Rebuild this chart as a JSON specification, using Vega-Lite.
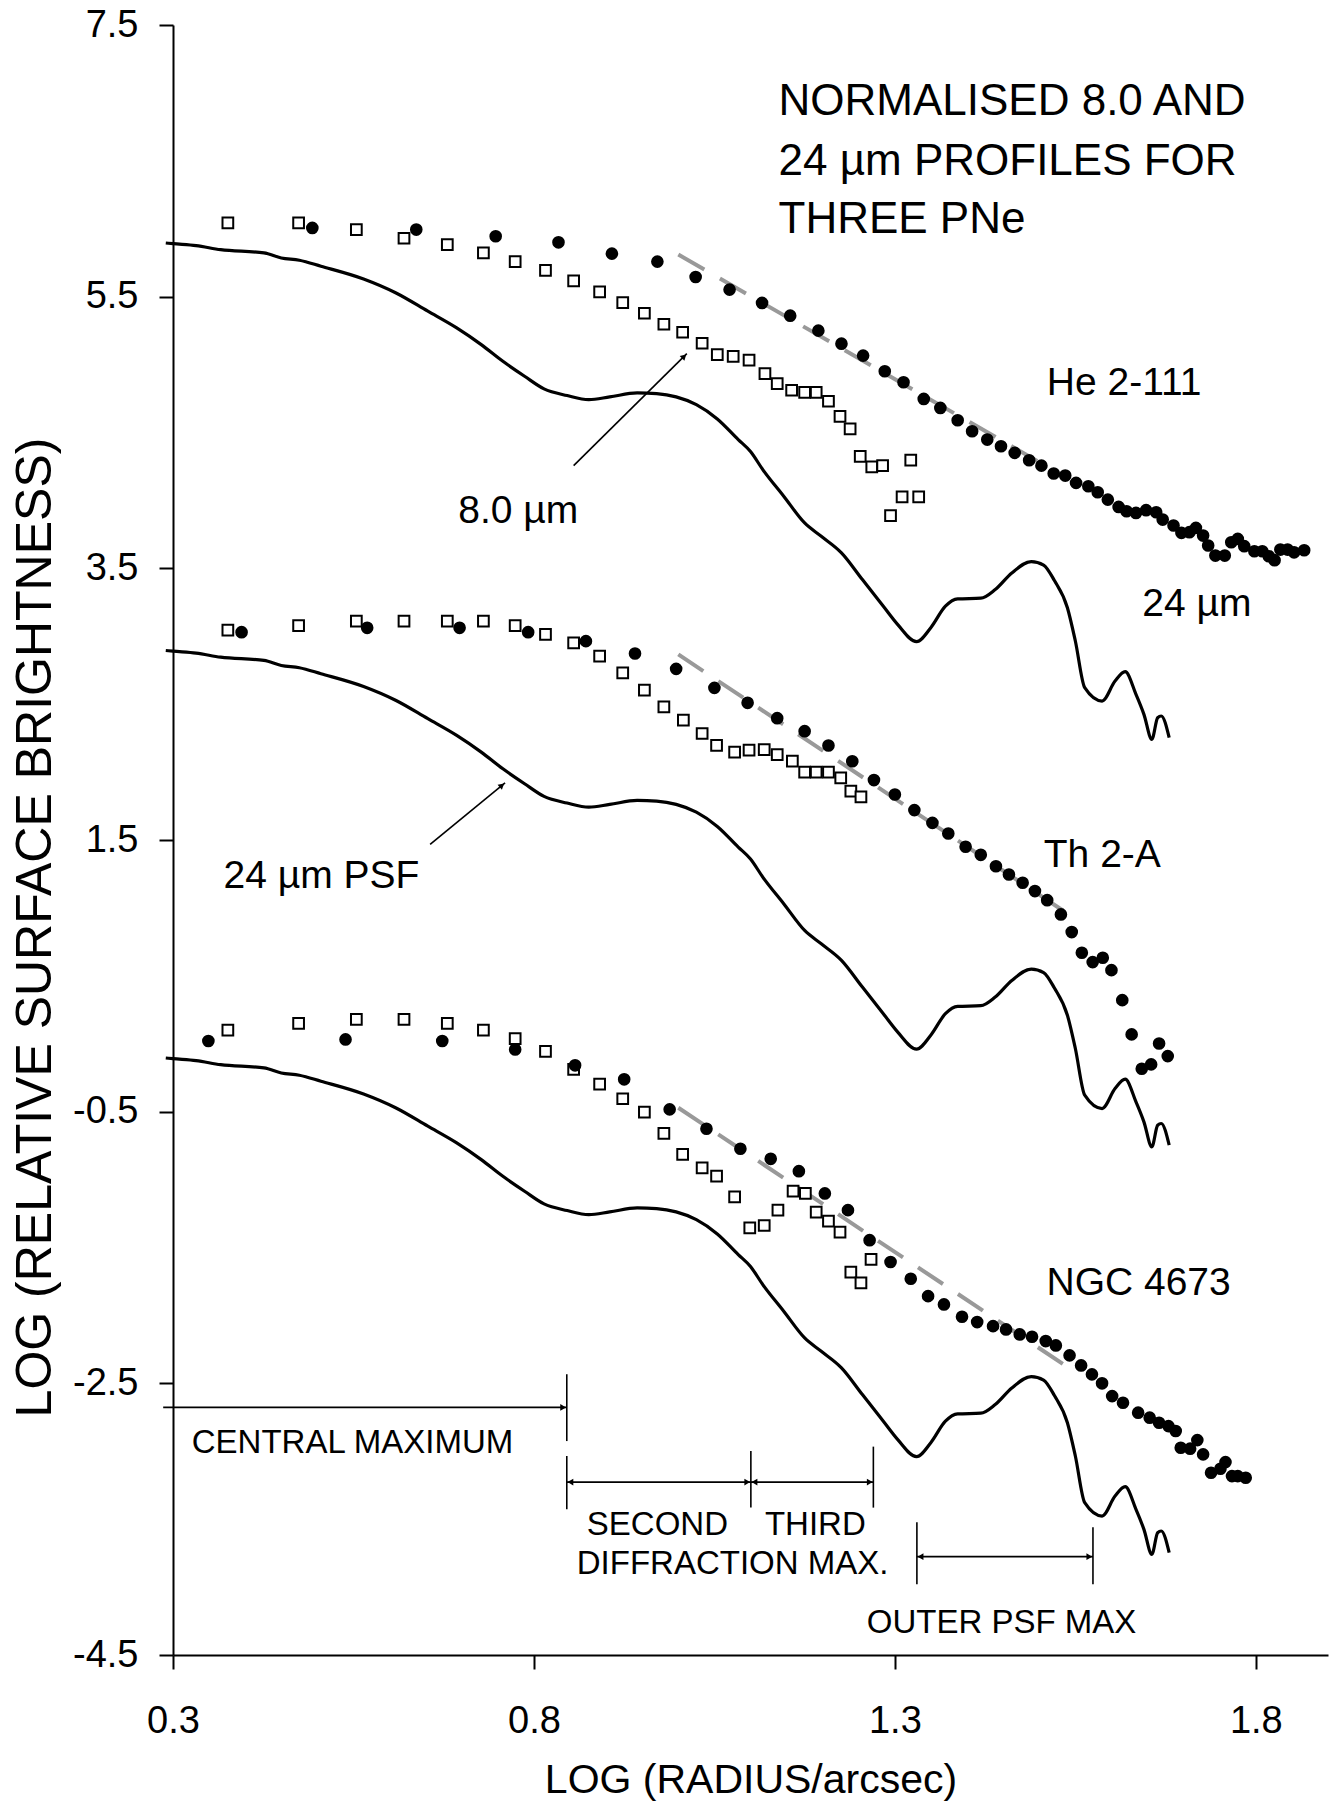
{
"$schema": "https://vega.github.io/schema/vega-lite/v6.json",
"width": 1155, "height": 1630,
"autosize": {"type": "none"},
"padding": {"left": 173, "top": 25, "right": 4, "bottom": 152},
"background": "white",
"config": {"font": "Liberation Sans", "view": {"stroke": null}},
"datasets": {
"psf": [
{"pn":"He","x":0.290,"y":5.895},{"pn":"He","x":0.300,"y":5.890},{"pn":"He","x":0.332,"y":5.876},{"pn":"He","x":0.366,"y":5.846},{"pn":"He","x":0.426,"y":5.822},{"pn":"He","x":0.450,"y":5.785},{"pn":"He","x":0.475,"y":5.768},{"pn":"He","x":0.505,"y":5.724},{"pn":"He","x":0.564,"y":5.630},{"pn":"He","x":0.609,"y":5.527},{"pn":"He","x":0.653,"y":5.393},{"pn":"He","x":0.693,"y":5.270},{"pn":"He","x":0.727,"y":5.147},{"pn":"He","x":0.757,"y":5.024},{"pn":"He","x":0.787,"y":4.914},{"pn":"He","x":0.814,"y":4.821},{"pn":"He","x":0.846,"y":4.772},{"pn":"He","x":0.876,"y":4.742},{"pn":"He","x":0.905,"y":4.762},{"pn":"He","x":0.943,"y":4.791},{"pn":"He","x":0.970,"y":4.786},{"pn":"He","x":0.997,"y":4.762},{"pn":"He","x":1.025,"y":4.705},{"pn":"He","x":1.054,"y":4.600},{"pn":"He","x":1.083,"y":4.448},{"pn":"He","x":1.100,"y":4.360},{"pn":"He","x":1.117,"y":4.227},{"pn":"He","x":1.146,"y":4.031},{"pn":"He","x":1.175,"y":3.834},{"pn":"He","x":1.198,"y":3.736},{"pn":"He","x":1.226,"y":3.614},{"pn":"He","x":1.255,"y":3.417},{"pn":"He","x":1.284,"y":3.221},{"pn":"He","x":1.304,"y":3.086},{"pn":"He","x":1.330,"y":2.960},{"pn":"He","x":1.350,"y":3.065},{"pn":"He","x":1.370,"y":3.221},{"pn":"He","x":1.387,"y":3.275},{"pn":"He","x":1.419,"y":3.280},{"pn":"He","x":1.439,"y":3.344},{"pn":"He","x":1.462,"y":3.466},{"pn":"He","x":1.489,"y":3.550},{"pn":"He","x":1.506,"y":3.524},{"pn":"He","x":1.521,"y":3.410},{"pn":"He","x":1.539,"y":3.210},{"pn":"He","x":1.550,"y":2.965},{"pn":"He","x":1.563,"y":2.621},{"pn":"He","x":1.587,"y":2.523},{"pn":"He","x":1.605,"y":2.670},{"pn":"He","x":1.619,"y":2.739},{"pn":"He","x":1.634,"y":2.572},{"pn":"He","x":1.645,"y":2.425},{"pn":"He","x":1.656,"y":2.241},{"pn":"He","x":1.664,"y":2.400},{"pn":"He","x":1.669,"y":2.413},{"pn":"He","x":1.680,"y":2.253},
{"pn":"Th","x":0.290,"y":2.895},{"pn":"Th","x":0.300,"y":2.890},{"pn":"Th","x":0.332,"y":2.876},{"pn":"Th","x":0.366,"y":2.846},{"pn":"Th","x":0.426,"y":2.822},{"pn":"Th","x":0.450,"y":2.785},{"pn":"Th","x":0.475,"y":2.768},{"pn":"Th","x":0.505,"y":2.724},{"pn":"Th","x":0.564,"y":2.630},{"pn":"Th","x":0.609,"y":2.527},{"pn":"Th","x":0.653,"y":2.393},{"pn":"Th","x":0.693,"y":2.270},{"pn":"Th","x":0.727,"y":2.147},{"pn":"Th","x":0.757,"y":2.024},{"pn":"Th","x":0.787,"y":1.914},{"pn":"Th","x":0.814,"y":1.821},{"pn":"Th","x":0.846,"y":1.772},{"pn":"Th","x":0.876,"y":1.742},{"pn":"Th","x":0.905,"y":1.762},{"pn":"Th","x":0.943,"y":1.791},{"pn":"Th","x":0.970,"y":1.786},{"pn":"Th","x":0.997,"y":1.762},{"pn":"Th","x":1.025,"y":1.705},{"pn":"Th","x":1.054,"y":1.600},{"pn":"Th","x":1.083,"y":1.448},{"pn":"Th","x":1.100,"y":1.360},{"pn":"Th","x":1.117,"y":1.227},{"pn":"Th","x":1.146,"y":1.031},{"pn":"Th","x":1.175,"y":0.834},{"pn":"Th","x":1.198,"y":0.736},{"pn":"Th","x":1.226,"y":0.614},{"pn":"Th","x":1.255,"y":0.417},{"pn":"Th","x":1.284,"y":0.221},{"pn":"Th","x":1.304,"y":0.086},{"pn":"Th","x":1.330,"y":-0.040},{"pn":"Th","x":1.350,"y":0.065},{"pn":"Th","x":1.370,"y":0.221},{"pn":"Th","x":1.387,"y":0.275},{"pn":"Th","x":1.419,"y":0.280},{"pn":"Th","x":1.439,"y":0.344},{"pn":"Th","x":1.462,"y":0.466},{"pn":"Th","x":1.489,"y":0.550},{"pn":"Th","x":1.506,"y":0.524},{"pn":"Th","x":1.521,"y":0.410},{"pn":"Th","x":1.539,"y":0.210},{"pn":"Th","x":1.550,"y":-0.035},{"pn":"Th","x":1.563,"y":-0.379},{"pn":"Th","x":1.587,"y":-0.477},{"pn":"Th","x":1.605,"y":-0.330},{"pn":"Th","x":1.619,"y":-0.261},{"pn":"Th","x":1.634,"y":-0.428},{"pn":"Th","x":1.645,"y":-0.575},{"pn":"Th","x":1.656,"y":-0.759},{"pn":"Th","x":1.664,"y":-0.600},{"pn":"Th","x":1.669,"y":-0.587},{"pn":"Th","x":1.680,"y":-0.747},
{"pn":"NGC","x":0.290,"y":-0.105},{"pn":"NGC","x":0.300,"y":-0.110},{"pn":"NGC","x":0.332,"y":-0.124},{"pn":"NGC","x":0.366,"y":-0.154},{"pn":"NGC","x":0.426,"y":-0.178},{"pn":"NGC","x":0.450,"y":-0.215},{"pn":"NGC","x":0.475,"y":-0.232},{"pn":"NGC","x":0.505,"y":-0.276},{"pn":"NGC","x":0.564,"y":-0.370},{"pn":"NGC","x":0.609,"y":-0.473},{"pn":"NGC","x":0.653,"y":-0.607},{"pn":"NGC","x":0.693,"y":-0.730},{"pn":"NGC","x":0.727,"y":-0.853},{"pn":"NGC","x":0.757,"y":-0.976},{"pn":"NGC","x":0.787,"y":-1.086},{"pn":"NGC","x":0.814,"y":-1.179},{"pn":"NGC","x":0.846,"y":-1.228},{"pn":"NGC","x":0.876,"y":-1.258},{"pn":"NGC","x":0.905,"y":-1.238},{"pn":"NGC","x":0.943,"y":-1.209},{"pn":"NGC","x":0.970,"y":-1.214},{"pn":"NGC","x":0.997,"y":-1.238},{"pn":"NGC","x":1.025,"y":-1.295},{"pn":"NGC","x":1.054,"y":-1.400},{"pn":"NGC","x":1.083,"y":-1.552},{"pn":"NGC","x":1.100,"y":-1.640},{"pn":"NGC","x":1.117,"y":-1.773},{"pn":"NGC","x":1.146,"y":-1.969},{"pn":"NGC","x":1.175,"y":-2.166},{"pn":"NGC","x":1.198,"y":-2.264},{"pn":"NGC","x":1.226,"y":-2.386},{"pn":"NGC","x":1.255,"y":-2.583},{"pn":"NGC","x":1.284,"y":-2.779},{"pn":"NGC","x":1.304,"y":-2.914},{"pn":"NGC","x":1.330,"y":-3.040},{"pn":"NGC","x":1.350,"y":-2.935},{"pn":"NGC","x":1.370,"y":-2.779},{"pn":"NGC","x":1.387,"y":-2.725},{"pn":"NGC","x":1.419,"y":-2.720},{"pn":"NGC","x":1.439,"y":-2.656},{"pn":"NGC","x":1.462,"y":-2.534},{"pn":"NGC","x":1.489,"y":-2.450},{"pn":"NGC","x":1.506,"y":-2.476},{"pn":"NGC","x":1.521,"y":-2.590},{"pn":"NGC","x":1.539,"y":-2.790},{"pn":"NGC","x":1.550,"y":-3.035},{"pn":"NGC","x":1.563,"y":-3.379},{"pn":"NGC","x":1.587,"y":-3.477},{"pn":"NGC","x":1.605,"y":-3.330},{"pn":"NGC","x":1.619,"y":-3.261},{"pn":"NGC","x":1.634,"y":-3.428},{"pn":"NGC","x":1.645,"y":-3.575},{"pn":"NGC","x":1.656,"y":-3.759},{"pn":"NGC","x":1.664,"y":-3.600},{"pn":"NGC","x":1.669,"y":-3.587},{"pn":"NGC","x":1.680,"y":-3.747}
],
"fits": [
{"pn":"He","x":1.000,"y":5.810},{"pn":"He","x":1.542,"y":4.153},
{"pn":"Th","x":1.000,"y":2.866},{"pn":"Th","x":1.541,"y":0.952},
{"pn":"NGC","x":1.000,"y":-0.471},{"pn":"NGC","x":1.544,"y":-2.397}
],
"sq": [
{"pn":"He","x":0.376,"y":6.043},{"pn":"He","x":0.474,"y":6.043},{"pn":"He","x":0.554,"y":5.994},{"pn":"He","x":0.620,"y":5.930},{"pn":"He","x":0.680,"y":5.883},{"pn":"He","x":0.730,"y":5.822},{"pn":"He","x":0.774,"y":5.758},{"pn":"He","x":0.816,"y":5.694},{"pn":"He","x":0.855,"y":5.616},{"pn":"He","x":0.891,"y":5.535},{"pn":"He","x":0.923,"y":5.456},{"pn":"He","x":0.953,"y":5.378},{"pn":"He","x":0.980,"y":5.297},{"pn":"He","x":1.006,"y":5.238},{"pn":"He","x":1.033,"y":5.157},{"pn":"He","x":1.054,"y":5.073},{"pn":"He","x":1.076,"y":5.061},{"pn":"He","x":1.098,"y":5.032},{"pn":"He","x":1.120,"y":4.934},{"pn":"He","x":1.137,"y":4.860},{"pn":"He","x":1.157,"y":4.811},{"pn":"He","x":1.175,"y":4.796},{"pn":"He","x":1.191,"y":4.796},{"pn":"He","x":1.208,"y":4.730},{"pn":"He","x":1.224,"y":4.619},{"pn":"He","x":1.238,"y":4.526},{"pn":"He","x":1.252,"y":4.325},{"pn":"He","x":1.268,"y":4.247},{"pn":"He","x":1.283,"y":4.256},{"pn":"He","x":1.322,"y":4.296},{"pn":"He","x":1.310,"y":4.026},{"pn":"He","x":1.333,"y":4.026},{"pn":"He","x":1.294,"y":3.888},
{"pn":"Th","x":0.376,"y":3.045},{"pn":"Th","x":0.474,"y":3.079},{"pn":"Th","x":0.554,"y":3.111},{"pn":"Th","x":0.620,"y":3.111},{"pn":"Th","x":0.680,"y":3.111},{"pn":"Th","x":0.730,"y":3.111},{"pn":"Th","x":0.774,"y":3.079},{"pn":"Th","x":0.816,"y":3.013},{"pn":"Th","x":0.855,"y":2.951},{"pn":"Th","x":0.891,"y":2.853},{"pn":"Th","x":0.923,"y":2.731},{"pn":"Th","x":0.953,"y":2.603},{"pn":"Th","x":0.980,"y":2.480},{"pn":"Th","x":1.007,"y":2.382},{"pn":"Th","x":1.033,"y":2.284},{"pn":"Th","x":1.053,"y":2.196},{"pn":"Th","x":1.078,"y":2.147},{"pn":"Th","x":1.098,"y":2.161},{"pn":"Th","x":1.119,"y":2.166},{"pn":"Th","x":1.137,"y":2.129},{"pn":"Th","x":1.158,"y":2.080},{"pn":"Th","x":1.175,"y":1.999},{"pn":"Th","x":1.191,"y":1.999},{"pn":"Th","x":1.208,"y":1.999},{"pn":"Th","x":1.225,"y":1.958},{"pn":"Th","x":1.239,"y":1.860},{"pn":"Th","x":1.253,"y":1.818},
{"pn":"NGC","x":0.376,"y":0.101},{"pn":"NGC","x":0.474,"y":0.150},{"pn":"NGC","x":0.554,"y":0.179},{"pn":"NGC","x":0.620,"y":0.179},{"pn":"NGC","x":0.680,"y":0.150},{"pn":"NGC","x":0.730,"y":0.101},{"pn":"NGC","x":0.774,"y":0.037},{"pn":"NGC","x":0.816,"y":-0.056},{"pn":"NGC","x":0.855,"y":-0.189},{"pn":"NGC","x":0.891,"y":-0.297},{"pn":"NGC","x":0.923,"y":-0.405},{"pn":"NGC","x":0.953,"y":-0.503},{"pn":"NGC","x":0.980,"y":-0.660},{"pn":"NGC","x":1.006,"y":-0.814},{"pn":"NGC","x":1.033,"y":-0.913},{"pn":"NGC","x":1.053,"y":-0.974},{"pn":"NGC","x":1.078,"y":-1.127},{"pn":"NGC","x":1.099,"y":-1.355},{"pn":"NGC","x":1.119,"y":-1.338},{"pn":"NGC","x":1.138,"y":-1.225},{"pn":"NGC","x":1.159,"y":-1.085},{"pn":"NGC","x":1.176,"y":-1.102},{"pn":"NGC","x":1.191,"y":-1.240},{"pn":"NGC","x":1.208,"y":-1.306},{"pn":"NGC","x":1.224,"y":-1.387},{"pn":"NGC","x":1.267,"y":-1.588},{"pn":"NGC","x":1.239,"y":-1.681},{"pn":"NGC","x":1.253,"y":-1.760}
],
"dots": [
{"pn":"He","x":0.493,"y":6.006},{"pn":"He","x":0.637,"y":5.994},{"pn":"He","x":0.747,"y":5.945},{"pn":"He","x":0.834,"y":5.900},{"pn":"He","x":0.908,"y":5.817},{"pn":"He","x":0.971,"y":5.758},{"pn":"He","x":1.024,"y":5.645},{"pn":"He","x":1.071,"y":5.552},{"pn":"He","x":1.116,"y":5.454},{"pn":"He","x":1.155,"y":5.360},{"pn":"He","x":1.194,"y":5.250},{"pn":"He","x":1.226,"y":5.154},{"pn":"He","x":1.256,"y":5.066},{"pn":"He","x":1.286,"y":4.951},{"pn":"He","x":1.312,"y":4.870},{"pn":"He","x":1.340,"y":4.747},{"pn":"He","x":1.363,"y":4.681},{"pn":"He","x":1.387,"y":4.590},{"pn":"He","x":1.407,"y":4.509},{"pn":"He","x":1.428,"y":4.448},{"pn":"He","x":1.447,"y":4.399},{"pn":"He","x":1.466,"y":4.350},{"pn":"He","x":1.486,"y":4.296},{"pn":"He","x":1.503,"y":4.256},{"pn":"He","x":1.520,"y":4.198},{"pn":"He","x":1.536,"y":4.183},{"pn":"He","x":1.551,"y":4.129},{"pn":"He","x":1.568,"y":4.104},{"pn":"He","x":1.581,"y":4.060},{"pn":"He","x":1.595,"y":4.006},{"pn":"He","x":1.610,"y":3.952},{"pn":"He","x":1.621,"y":3.920},{"pn":"He","x":1.634,"y":3.908},{"pn":"He","x":1.648,"y":3.928},{"pn":"He","x":1.662,"y":3.913},{"pn":"He","x":1.671,"y":3.859},{"pn":"He","x":1.686,"y":3.815},{"pn":"He","x":1.697,"y":3.761},{"pn":"He","x":1.708,"y":3.766},{"pn":"He","x":1.717,"y":3.798},{"pn":"He","x":1.727,"y":3.741},{"pn":"He","x":1.734,"y":3.668},{"pn":"He","x":1.744,"y":3.594},{"pn":"He","x":1.757,"y":3.594},{"pn":"He","x":1.766,"y":3.692},{"pn":"He","x":1.775,"y":3.717},{"pn":"He","x":1.784,"y":3.663},{"pn":"He","x":1.798,"y":3.626},{"pn":"He","x":1.809,"y":3.626},{"pn":"He","x":1.818,"y":3.589},{"pn":"He","x":1.826,"y":3.560},{"pn":"He","x":1.834,"y":3.638},{"pn":"He","x":1.844,"y":3.638},{"pn":"He","x":1.853,"y":3.618},{"pn":"He","x":1.867,"y":3.633},
{"pn":"Th","x":0.395,"y":3.030},{"pn":"Th","x":0.569,"y":3.062},{"pn":"Th","x":0.697,"y":3.062},{"pn":"Th","x":0.792,"y":3.030},{"pn":"Th","x":0.872,"y":2.964},{"pn":"Th","x":0.940,"y":2.873},{"pn":"Th","x":0.997,"y":2.760},{"pn":"Th","x":1.050,"y":2.620},{"pn":"Th","x":1.096,"y":2.510},{"pn":"Th","x":1.137,"y":2.397},{"pn":"Th","x":1.175,"y":2.301},{"pn":"Th","x":1.208,"y":2.196},{"pn":"Th","x":1.241,"y":2.080},{"pn":"Th","x":1.271,"y":1.941},{"pn":"Th","x":1.300,"y":1.835},{"pn":"Th","x":1.327,"y":1.720},{"pn":"Th","x":1.352,"y":1.626},{"pn":"Th","x":1.374,"y":1.548},{"pn":"Th","x":1.398,"y":1.450},{"pn":"Th","x":1.419,"y":1.391},{"pn":"Th","x":1.440,"y":1.307},{"pn":"Th","x":1.458,"y":1.246},{"pn":"Th","x":1.477,"y":1.185},{"pn":"Th","x":1.494,"y":1.124},{"pn":"Th","x":1.511,"y":1.057},{"pn":"Th","x":1.530,"y":0.952},{"pn":"Th","x":1.545,"y":0.822},{"pn":"Th","x":1.559,"y":0.670},{"pn":"Th","x":1.574,"y":0.601},{"pn":"Th","x":1.588,"y":0.633},{"pn":"Th","x":1.600,"y":0.542},{"pn":"Th","x":1.615,"y":0.321},{"pn":"Th","x":1.628,"y":0.069},{"pn":"Th","x":1.642,"y":-0.184},{"pn":"Th","x":1.655,"y":-0.152},{"pn":"Th","x":1.666,"y":0.002},{"pn":"Th","x":1.678,"y":-0.091},
{"pn":"NGC","x":0.349,"y":0.020},{"pn":"NGC","x":0.539,"y":0.032},{"pn":"NGC","x":0.673,"y":0.020},{"pn":"NGC","x":0.774,"y":-0.042},{"pn":"NGC","x":0.857,"y":-0.159},{"pn":"NGC","x":0.925,"y":-0.262},{"pn":"NGC","x":0.988,"y":-0.483},{"pn":"NGC","x":1.039,"y":-0.626},{"pn":"NGC","x":1.086,"y":-0.773},{"pn":"NGC","x":1.128,"y":-0.847},{"pn":"NGC","x":1.167,"y":-0.938},{"pn":"NGC","x":1.203,"y":-1.102},{"pn":"NGC","x":1.235,"y":-1.225},{"pn":"NGC","x":1.265,"y":-1.446},{"pn":"NGC","x":1.294,"y":-1.607},{"pn":"NGC","x":1.322,"y":-1.730},{"pn":"NGC","x":1.346,"y":-1.858},{"pn":"NGC","x":1.368,"y":-1.919},{"pn":"NGC","x":1.393,"y":-2.010},{"pn":"NGC","x":1.414,"y":-2.049},{"pn":"NGC","x":1.436,"y":-2.079},{"pn":"NGC","x":1.454,"y":-2.103},{"pn":"NGC","x":1.473,"y":-2.140},{"pn":"NGC","x":1.490,"y":-2.157},{"pn":"NGC","x":1.509,"y":-2.189},{"pn":"NGC","x":1.523,"y":-2.221},{"pn":"NGC","x":1.542,"y":-2.294},{"pn":"NGC","x":1.558,"y":-2.368},{"pn":"NGC","x":1.573,"y":-2.434},{"pn":"NGC","x":1.587,"y":-2.500},{"pn":"NGC","x":1.601,"y":-2.594},{"pn":"NGC","x":1.616,"y":-2.643},{"pn":"NGC","x":1.637,"y":-2.716},{"pn":"NGC","x":1.653,"y":-2.753},{"pn":"NGC","x":1.666,"y":-2.790},{"pn":"NGC","x":1.679,"y":-2.815},{"pn":"NGC","x":1.689,"y":-2.851},{"pn":"NGC","x":1.696,"y":-2.974},{"pn":"NGC","x":1.709,"y":-2.981},{"pn":"NGC","x":1.719,"y":-2.918},{"pn":"NGC","x":1.727,"y":-3.023},{"pn":"NGC","x":1.738,"y":-3.158},{"pn":"NGC","x":1.751,"y":-3.129},{"pn":"NGC","x":1.758,"y":-3.080},{"pn":"NGC","x":1.767,"y":-3.183},{"pn":"NGC","x":1.775,"y":-3.183},{"pn":"NGC","x":1.786,"y":-3.195}
],
"segs": [
{"x":0.2864,"y":-2.677,"x2":0.8455,"y2":-2.677},
{"x":0.8455,"y":-2.433,"x2":0.8455,"y2":-2.925},
{"x":0.8455,"y":-3.035,"x2":0.8455,"y2":-3.427},
{"x":0.8455,"y":-3.227,"x2":1.1005,"y2":-3.227},
{"x":1.1005,"y":-3.227,"x2":1.2702,"y2":-3.227},
{"x":1.1005,"y":-2.998,"x2":1.1005,"y2":-3.415},
{"x":1.2702,"y":-2.966,"x2":1.2702,"y2":-3.415},
{"x":1.3305,"y":-3.523,"x2":1.3305,"y2":-3.979},
{"x":1.5744,"y":-3.560,"x2":1.5744,"y2":-3.979},
{"x":1.3305,"y":-3.776,"x2":1.5744,"y2":-3.776},
{"x":0.855,"y":4.256,"x2":1.0118,"y2":5.081},
{"x":0.6562,"y":1.467,"x2":0.760,"y2":1.921}
],
"heads": [
{"x":0.8405,"y":-2.677,"dir":"right"},{"x":1.0955,"y":-3.227,"dir":"right"},{"x":1.2652,"y":-3.227,"dir":"right"},{"x":1.5694,"y":-3.776,"dir":"right"},
{"x":0.8505,"y":-3.227,"dir":"left"},{"x":1.1055,"y":-3.227,"dir":"left"},{"x":1.3355,"y":-3.776,"dir":"left"}
],
"title": [
{"x":1.1388,"y":6.840,"t":"NORMALISED 8.0 AND"},{"x":1.1388,"y":6.398,"t":"24 µm PROFILES FOR"},{"x":1.1388,"y":5.971,"t":"THREE PNe"}
],
"labels": [
{"x":1.5105,"y":4.779,"t":"He 2-111"},{"x":1.6426,"y":3.147,"t":"24 µm"},{"x":0.6952,"y":3.835,"t":"8.0 µm"},{"x":1.5063,"y":1.303,"t":"Th 2-A"},{"x":0.370,"y":1.148,"t":"24 µm PSF"},{"x":1.510,"y":-1.852,"t":"NGC 4673"}
],
"notes": [
{"x":0.326,"y":-3.015,"t":"CENTRAL MAXIMUM"},{"x":0.8732,"y":-3.617,"t":"SECOND"},{"x":1.120,"y":-3.617,"t":"THIRD"},{"x":0.8593,"y":-3.906,"t":"DIFFRACTION MAX."},{"x":1.261,"y":-4.335,"t":"OUTER PSF MAX"}
]
},
"layer": [
{
"data": {"name": "psf"},
"mark": {"type": "line", "color": "black", "strokeWidth": 3.2, "strokeJoin": "round", "interpolate": "monotone"},
"encoding": {
"x": {"field": "x", "type": "quantitative", "scale": {"domain": [0.3, 1.9], "nice": false, "zero": false},
"axis": {"title": "LOG (RADIUS/arcsec)", "values": [0.3, 0.8, 1.3, 1.8], "format": ".1f", "grid": false, "labelFlush": false, "labelOverlap": false,
"domainColor": "black", "domainWidth": 2, "tickColor": "black", "tickWidth": 2, "tickSize": 14,
"labelFontSize": 38, "labelColor": "black", "labelPadding": 33,
"titleFontSize": 41, "titleFontWeight": "normal", "titleColor": "black", "titleBaseline": "alphabetic", "titleY": 137}},
"y": {"field": "y", "type": "quantitative", "scale": {"domain": [-4.5, 7.5], "nice": false, "zero": false},
"axis": {"title": "LOG (RELATIVE SURFACE BRIGHTNESS)", "values": [-4.5, -2.5, -0.5, 1.5, 3.5, 5.5, 7.5], "format": ".1f", "labelExpr": "replace(datum.label, '\u2212', '-')", "grid": false, "labelFlush": false, "labelOverlap": false,
"domainColor": "black", "domainWidth": 2, "tickColor": "black", "tickWidth": 2, "tickSize": 14,
"labelFontSize": 38, "labelColor": "black", "labelPadding": 21,
"titleFontSize": 50, "titleFontWeight": "normal", "titleColor": "black", "titleBaseline": "alphabetic", "titleX": -123, "titleY": 902}},
"detail": {"field": "pn"}
}
},
{
"data": {"name": "fits"},
"mark": {"type": "line", "color": "#999999", "strokeWidth": 4, "strokeDash": [30, 18]},
"encoding": {"x": {"field": "x", "type": "quantitative"}, "y": {"field": "y", "type": "quantitative"}, "detail": {"field": "pn"}}
},
{
"data": {"name": "sq"},
"mark": {"type": "point", "shape": "square", "size": 115, "filled": true, "fill": "white", "stroke": "black", "strokeWidth": 2, "opacity": 1},
"encoding": {"x": {"field": "x", "type": "quantitative"}, "y": {"field": "y", "type": "quantitative"}}
},
{
"data": {"name": "dots"},
"mark": {"type": "point", "shape": "circle", "size": 160, "filled": true, "color": "black", "opacity": 1},
"encoding": {"x": {"field": "x", "type": "quantitative"}, "y": {"field": "y", "type": "quantitative"}}
},
{
"data": {"name": "segs"},
"mark": {"type": "rule", "color": "black", "strokeWidth": 1.6},
"encoding": {"x": {"field": "x", "type": "quantitative"}, "y": {"field": "y", "type": "quantitative"}, "x2": {"field": "x2"}, "y2": {"field": "y2"}}
},
{
"data": {"name": "heads"},
"mark": {"type": "point", "filled": true, "color": "black", "size": 45, "opacity": 1},
"encoding": {"x": {"field": "x", "type": "quantitative"}, "y": {"field": "y", "type": "quantitative"},
"shape": {"field": "dir", "type": "nominal", "scale": {"domain": ["right", "left"], "range": ["triangle-right", "triangle-left"]}, "legend": null}}
},
{
"data": {"values": [{"x": 1.008, "y": 5.060}]},
"mark": {"type": "point", "shape": "triangle-up", "filled": true, "color": "black", "size": 45, "opacity": 1, "angle": 45},
"encoding": {"x": {"field": "x", "type": "quantitative"}, "y": {"field": "y", "type": "quantitative"}}
},
{
"data": {"values": [{"x": 0.7557, "y": 1.902}]},
"mark": {"type": "point", "shape": "triangle-up", "filled": true, "color": "black", "size": 45, "opacity": 1, "angle": 50},
"encoding": {"x": {"field": "x", "type": "quantitative"}, "y": {"field": "y", "type": "quantitative"}}
},
{
"data": {"name": "title"},
"mark": {"type": "text", "align": "left", "baseline": "alphabetic", "fontSize": 44, "color": "black"},
"encoding": {"x": {"field": "x", "type": "quantitative"}, "y": {"field": "y", "type": "quantitative"}, "text": {"field": "t"}}
},
{
"data": {"name": "labels"},
"mark": {"type": "text", "align": "left", "baseline": "alphabetic", "fontSize": 39, "color": "black"},
"encoding": {"x": {"field": "x", "type": "quantitative"}, "y": {"field": "y", "type": "quantitative"}, "text": {"field": "t"}}
},
{
"data": {"name": "notes"},
"mark": {"type": "text", "align": "left", "baseline": "alphabetic", "fontSize": 33, "color": "black"},
"encoding": {"x": {"field": "x", "type": "quantitative"}, "y": {"field": "y", "type": "quantitative"}, "text": {"field": "t"}}
}
]
}
